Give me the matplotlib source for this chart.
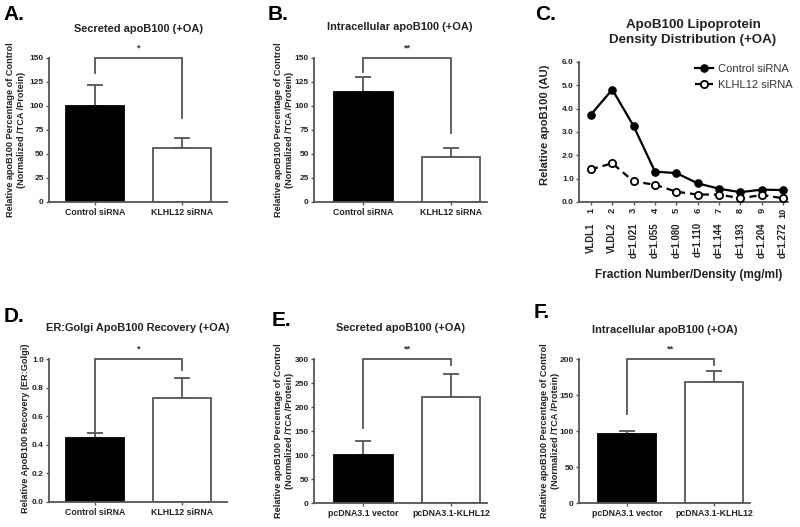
import matplotlib
matplotlib.use("Agg")
import matplotlib.pyplot as plt
import numpy as np

plt.rcParams['font.family'] = ['Liberation Sans', 'DejaVu Sans']

# ---------------- data ----------------
siRNA_groups = ["Control siRNA", "KLHL12 siRNA"]
vector_groups = ["pcDNA3.1 vector", "pcDNA3.1-KLHL12"]

a_means = [100, 56]
a_err = [22, 11]
b_means = [115, 47]
b_err = [15, 9]
d_means = [0.45, 0.725]
d_err = [0.03, 0.145]
e_means = [100, 221]
e_err = [30, 48]
f_means = [96, 168]
f_err = [4.5, 16]

c_fractions = [1, 2, 3, 4, 5, 6, 7, 8, 9, 10]
c_density = ["VLDL1", "VLDL2", "d=1.021", "d=1.055", "d=1.080",
             "d=1.110", "d=1.144", "d=1.193", "d=1.204", "d=1.272"]
c_control = [3.75, 4.82, 3.25, 1.30, 1.24, 0.80, 0.57, 0.42, 0.53, 0.51]
c_klhl12 = [1.40, 1.66, 0.88, 0.74, 0.44, 0.32, 0.32, 0.16, 0.30, 0.16]

W, H = 800, 527
fig = plt.figure(figsize=(W / 100, H / 100), dpi=100)

GRAY = "#555555"
TXT = "#222222"
TICK_FS = 6.0


def add_ax(left, top, right, bottom):
    return fig.add_axes([left / W, 1 - bottom / H, (right - left) / W, (bottom - top) / H])


def ftext(x, y, s, **kw):
    fig.text(x / W, 1 - y / H, s, **kw)


def style_axes(ax):
    for side in ("top", "right"):
        ax.spines[side].set_visible(False)
    for side in ("left", "bottom"):
        ax.spines[side].set_color(GRAY)
        ax.spines[side].set_linewidth(1.3)
    ax.tick_params(axis="both", colors=GRAY, width=1.0, length=2.5, pad=1.2,
                   labelsize=TICK_FS, labelcolor=TXT)
    for lab in ax.get_xticklabels() + ax.get_yticklabels():
        lab.set_fontweight("bold")


def bar_panel(box, xlim, groups, means, errs, ymax, ystep, fmt, bracket, stars):
    ax = add_ax(*box)
    x = np.arange(len(groups))
    ax.bar(x, means, width=0.67, color=["black", "white"],
           edgecolor=["black", GRAY], linewidth=1.3, zorder=2)
    ax.errorbar(x, means, yerr=[np.zeros(len(errs)), errs], fmt="none",
                ecolor=GRAY, elinewidth=1.3, capsize=5.5, capthick=1.3, zorder=1)
    ax.set_xlim(*xlim)
    ax.set_ylim(0, ymax)
    ticks = np.arange(0, ymax + ystep / 2, ystep)
    ax.set_yticks(ticks)
    ax.set_yticklabels([fmt.format(v) for v in ticks])
    ax.set_xticks(x)
    ax.set_xticklabels(groups)
    style_axes(ax)
    ax.tick_params(axis="x", labelsize=6.3, pad=2)
    yl, yr = bracket
    ax.plot([0, 0, 1, 1], [yl, ymax, ymax, yr], color=GRAY, lw=1.3,
            clip_on=False, solid_joinstyle="miter")
    ax.text(0.5, ymax * 1.035, stars, ha="center", va="bottom",
            fontsize=6.5, fontweight="bold", color="#333333")
    return ax


# ---- Panel A ----
bar_panel((49, 58, 227, 202), (-0.53, 1.52), siRNA_groups, a_means, a_err,
          150, 25, "{:.0f}", (134, 87), "*")
# ---- Panel B ----
bar_panel((314, 58, 487, 202), (-0.56, 1.41), siRNA_groups, b_means, b_err,
          150, 25, "{:.0f}", (135, 72), "**")
# ---- Panel D ----
bar_panel((49, 359, 227, 502), (-0.53, 1.52), siRNA_groups, d_means, d_err,
          1.0, 0.2, "{:.1f}", (0.48, 0.92), "*")
# ---- Panel E ----
bar_panel((314, 359, 487, 503), (-0.56, 1.41), vector_groups, e_means, e_err,
          300, 50, "{:.0f}", (156, 288), "**")
# ---- Panel F ----
bar_panel((579, 359, 750, 503), (-0.55, 1.41), vector_groups, f_means, f_err,
          200, 50, "{:.0f}", (123, 192), "**")

# ---- Panel C ----
axc = add_ax(579, 62, 788, 202)
axc.plot(c_fractions, c_control, color="black", lw=1.6, marker="o",
         markersize=5.2, markerfacecolor="black", markeredgecolor="black",
         label="Control siRNA", clip_on=False, zorder=3)
axc.plot(c_fractions, c_klhl12, color="black", lw=1.6, ls=(0, (3.2, 2.2)),
         marker="o", markersize=5.2, markerfacecolor="white",
         markeredgecolor="black", markeredgewidth=1.3,
         label="KLHL12 siRNA", clip_on=False, zorder=3)
axc.set_xlim(0.44, 10.23)
axc.set_ylim(0, 6.0)
cticks = np.arange(0, 6.01, 1.0)
axc.set_yticks(cticks)
axc.set_yticklabels(["{:.1f}".format(v) for v in cticks])
axc.set_xticks(c_fractions)
axc.set_xticklabels([str(v) for v in c_fractions], rotation=90)
style_axes(axc)
axc.tick_params(axis="x", pad=2, labelsize=6.6)
xt = axc.get_xaxis_transform()
for xv, lab in zip(c_fractions, c_density):
    axc.text(xv, -0.145, lab, transform=xt, rotation=90, ha="center", va="top",
             fontsize=6.9, fontweight="bold", color=TXT)
leg = axc.legend(loc="upper left", bbox_to_anchor=(0.535, 1.02), frameon=False,
                 fontsize=8.0, handlelength=1.6, handletextpad=0.45,
                 labelspacing=0.55, borderaxespad=0)
for t in leg.get_texts():
    t.set_color("#333333")

# ---------------- text: titles, labels, letters ----------------
TITLE_KW = dict(ha="center", va="center", fontsize=7.9, fontweight="bold", color=TXT)
ftext(138, 29, "Secreted apoB100 (+OA)", **TITLE_KW)
ftext(400, 27, "Intracellular apoB100 (+OA)", **TITLE_KW)
ftext(693, 25, "ApoB100 Lipoprotein", ha="center", va="center", fontsize=9.6,
      fontweight="bold", color=TXT)
ftext(693, 40, "Density Distribution (+OA)", ha="center", va="center", fontsize=9.6,
      fontweight="bold", color=TXT)
ftext(138, 328, "ER:Golgi ApoB100 Recovery (+OA)", **TITLE_KW)
ftext(400, 328, "Secreted apoB100 (+OA)", **TITLE_KW)
ftext(665, 330, "Intracellular apoB100 (+OA)", **TITLE_KW)

YL_KW = dict(ha="center", va="center", rotation=90, fontsize=6.6,
             fontweight="bold", color=TXT, multialignment="center",
             linespacing=1.2)
ylab2 = "Relative apoB100 Percentage of Control\n(Normalized /TCA /Protein)"
ftext(16, 130, ylab2, **YL_KW)
ftext(284, 130, ylab2, **YL_KW)
ftext(284, 431, ylab2, **YL_KW)
ftext(550, 431, ylab2, **YL_KW)
ftext(26, 428, "Relative ApoB100 Recovery (ER:Golgi)", **YL_KW)
ftext(545, 125, "Relative apoB100 (AU)", ha="center", va="center", rotation=90,
      fontsize=8.1, fontweight="bold", color=TXT)
ftext(689, 275, "Fraction Number/Density (mg/ml)", ha="center", va="center",
      fontsize=8.6, fontweight="bold", color=TXT)

LET_KW = dict(ha="left", va="center", fontsize=15, fontweight="bold", color="black")
ftext(3, 15, "A.", **LET_KW)
ftext(268, 15, "B.", **LET_KW)
ftext(535, 15, "C.", **LET_KW)
ftext(4, 316, "D.", **LET_KW)
ftext(272, 320, "E.", **LET_KW)
ftext(534, 313, "F.", **LET_KW)

fig.savefig("out.png", dpi=100)
